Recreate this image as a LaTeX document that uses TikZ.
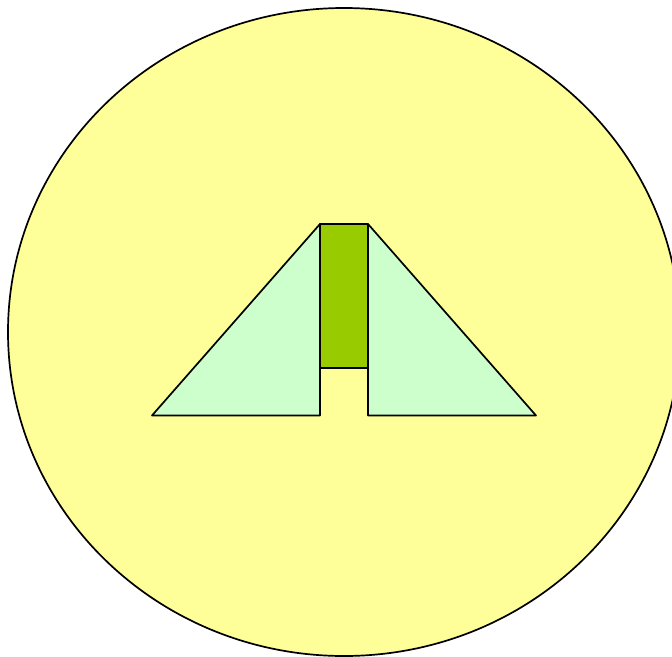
\documentclass[tikz,border=0pt]{standalone}
\definecolor{bgyellow}{HTML}{FFFF99}
\definecolor{lightgreen}{HTML}{CCFFCC}
\definecolor{darkgreen}{HTML}{99CC00}
\begin{document}
\begin{tikzpicture}[x=1pt,y=-1pt,
  outline/.style={draw=black,line width=1.7pt,line join=round}]
\useasboundingbox (0,0) rectangle (672,656);
\clip (0,0) rectangle (672,656);
\draw[outline,fill=bgyellow] (344,332) ellipse [x radius=336,y radius=324];
\coordinate (lb) at (152,415.5);
\coordinate (lt) at (320,224);
\coordinate (lm) at (320,415.5);
\coordinate (rt) at (368,224);
\coordinate (rb) at (536,415.5);
\coordinate (rm) at (368,415.5);
\draw[outline,fill=lightgreen] (lb) -- (lt) -- (lm) -- cycle;
\draw[outline,fill=lightgreen] (rt) -- (rb) -- (rm) -- cycle;
\draw[outline,fill=darkgreen] (320,224) rectangle (368,368);
\end{tikzpicture}
\end{document}
